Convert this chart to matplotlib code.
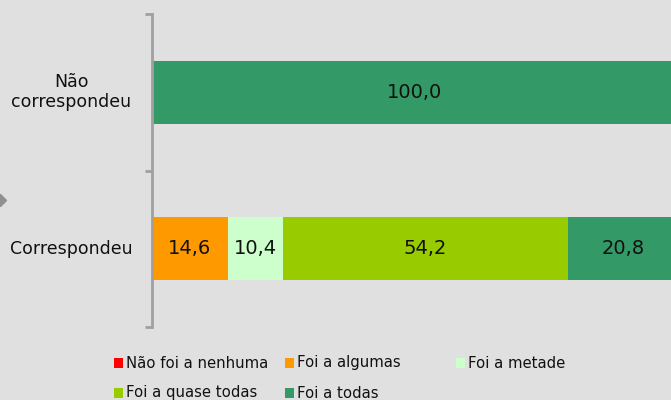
import matplotlib.pyplot as plt
from matplotlib.patches import Rectangle
from matplotlib.lines import Line2D
import matplotlib.transforms as mtransforms

categories = ['Correspondeu', 'Não\ncorrespondeu']
series = ['Não foi a nenhuma', 'Foi a algumas', 'Foi a metade', 'Foi a quase todas', 'Foi a todas']
nenhuma = [0, 0]
algumas = [14.6, 0]
metade = [10.4, 0]
quase = [54.2, 0]
todas = [20.8, 100.0]
values = [nenhuma, algumas, metade, quase, todas]
colors = ['#ff0000', '#ff9900', '#ccffcc', '#99cc00', '#339966']

bg = '#e0e0e0'
W, H = 671, 400
fig = plt.figure(figsize=(W / 100, H / 100), dpi=100, facecolor=bg)
ax = fig.add_axes([151.5 / W, (H - 327) / H, 526 / W, 313 / H])
ax.set_facecolor(bg)

y = list(range(len(categories)))
left = [0] * len(categories)
for vals, col in zip(values, colors):
    bars = ax.barh(y, vals, left=left, height=0.4, color=col)
    for b, v in zip(bars, vals):
        if v > 0:
            ax.text(b.get_x() + b.get_width() / 2, b.get_y() + b.get_height() / 2,
                    f'{v:.1f}'.replace('.', ','), ha='center', va='center',
                    fontsize=14, color='#111111')
    left = [l + v for l, v in zip(left, vals)]

ax.set_xlim(0, 100)
ax.set_ylim(-0.5, 1.5)
for s in ['top', 'right', 'bottom']:
    ax.spines[s].set_visible(False)
ax.spines['left'].set_color('#a0a0a0')
ax.spines['left'].set_linewidth(2)
ax.set_xticks([])
ax.set_yticks(y)
ax.set_yticklabels([])
ax.tick_params(axis='y', which='major', length=0)
ax.set_yticks([-0.5, 0.5, 1.5], minor=True)
ax.tick_params(axis='y', which='minor', length=5, width=2, color='#a0a0a0')

trans = mtransforms.blended_transform_factory(ax.transAxes, ax.transData)
for yi, cat in zip(y, categories):
    ax.text(-0.152, yi, cat, transform=trans, ha='center', va='center',
            fontsize=12.5, color='#111111', linespacing=1.15)

# legend, three columns row by row
for i, (lab, col) in enumerate(zip(series, colors)):
    row, c = divmod(i, 3)
    x0 = 114 + c * 171
    yc = 363 + row * 30
    fig.add_artist(Rectangle((x0 / W, (H - yc - 5) / H), 9 / W, 10 / H,
                             transform=fig.transFigure, color=col, lw=0))
    fig.text((x0 + 12) / W, (H - yc) / H, lab, ha='left', va='center',
             fontsize=10.7, color='#111111')

fig.add_artist(Line2D([0], [(H - 200) / H], marker='D', markersize=6,
                      color='#909090', transform=fig.transFigure))

fig.savefig('out.png', dpi=100, facecolor=bg)
